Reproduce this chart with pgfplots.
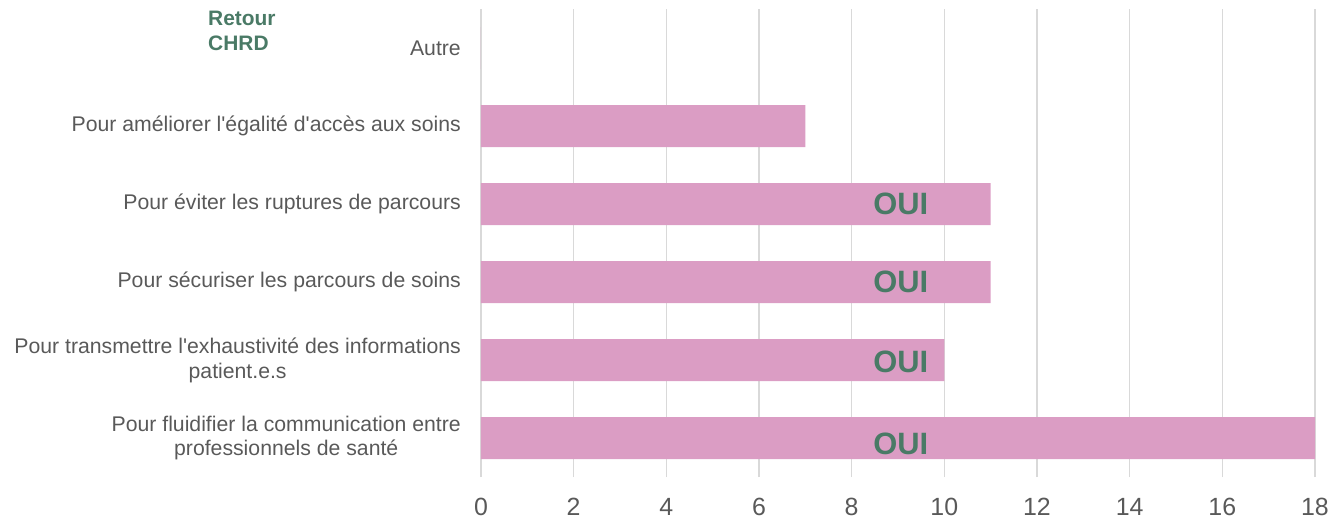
\documentclass[border=0pt]{standalone}
\usepackage{pgfplots}
\pgfplotsset{compat=1.18}
\usepackage{fontspec}
\setmainfont{Liberation Sans}

\definecolor{barpink}{RGB}{219,157,196}
\definecolor{txtgrey}{RGB}{89,89,89}
\definecolor{oui}{RGB}{74,122,102}
\definecolor{gridgrey}{RGB}{217,217,217}

\begin{document}
\begin{tikzpicture}
% picture frame: 1332 x 519, axis box starts at (0,0)
\useasboundingbox (-481bp,-42bp) rectangle (851bp,477bp);

\begin{axis}[
  scale only axis,
  width=834bp, height=468bp,
  xbar, bar width=42bp,
  xmin=0, xmax=18,
  ymin=-0.5, ymax=5.5,
  xtick={0,2,...,18},
  ytick={0,1,2,3,4,5},
  yticklabels={
    {Pour fluidifier la communication entre\\professionnels de santé},
    {Pour transmettre l\textquotesingle exhaustivité des informations\\patient.e.s},
    {Pour sécuriser les parcours de soins},
    {Pour éviter les ruptures de parcours},
    {Pour améliorer l\textquotesingle égalité d\textquotesingle accès aux soins},
    {Autre}},
  axis line style={draw=none},
  major tick length=0pt,
  xmajorgrids,
  grid style={gridgrey, line width=1.5bp},
  /pgf/number format/assume math mode=true,
  xticklabel style={font=\fontsize{25}{30}\selectfont, text=txtgrey, inner sep=0pt, yshift=-21bp},
  yticklabel style={font=\fontsize{21.3}{25}\selectfont, text=txtgrey, align=center, inner sep=0pt, xshift=-20bp},
]
\addplot[fill=barpink, draw=none] coordinates {
  (18,0) (10,1) (11,2) (11,3) (7,4) (0,5)
};

\node[text=oui, font=\fontsize{31}{36}\selectfont\bfseries] at (axis cs:9.06,3) {OUI};
\node[text=oui, font=\fontsize{31}{36}\selectfont\bfseries] at (axis cs:9.06,2) {OUI};
\node[text=oui, font=\fontsize{31}{36}\selectfont\bfseries] at (axis cs:9.06,0.98) {OUI};
\node[text=oui, font=\fontsize{31}{36}\selectfont\bfseries] at (axis cs:9.06,-0.08) {OUI};
\end{axis}

\node[anchor=north west, align=left, inner sep=0pt, text=oui,
      font=\fontsize{21}{25}\selectfont\bfseries] at (-273bp,466bp) {Retour\\CHRD};
\end{tikzpicture}
\end{document}
